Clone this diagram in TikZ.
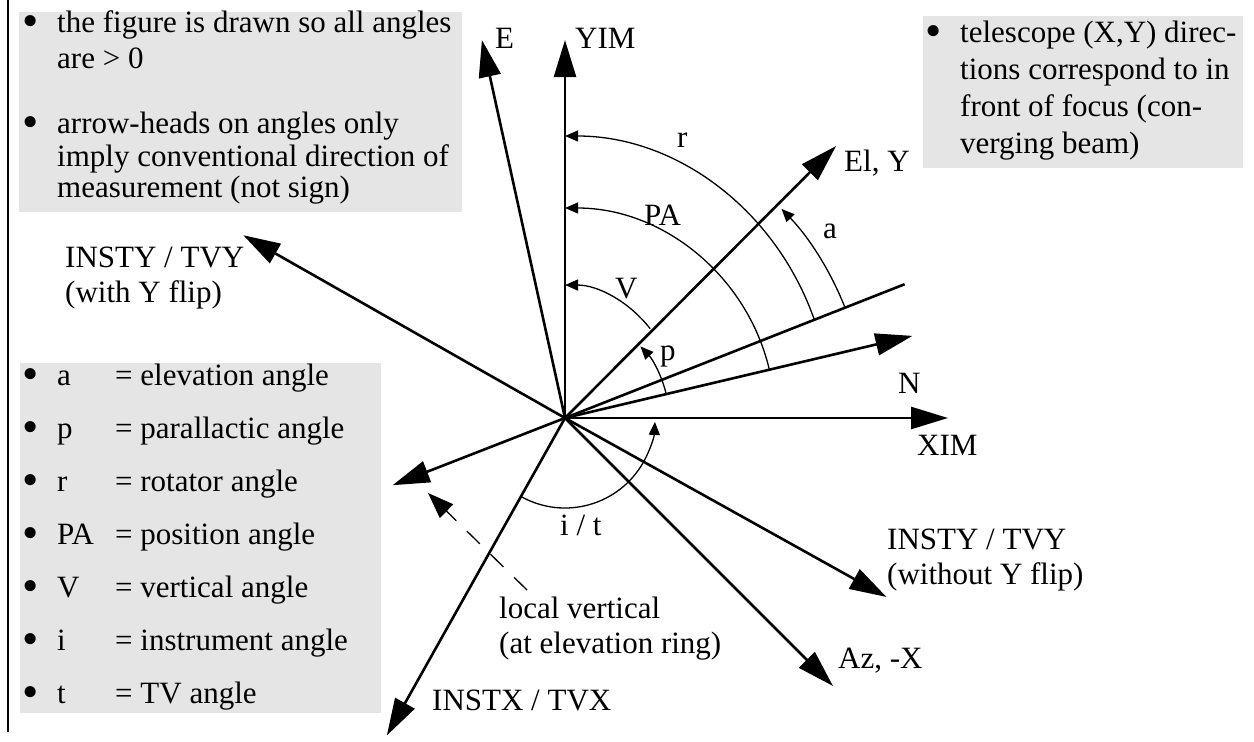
\documentclass[tikz,border=0pt]{standalone}
\usepackage{fontspec}
\setmainfont{Liberation Serif}
\usetikzlibrary{arrows.meta,calc}
\definecolor{boxgray}{RGB}{229,229,229}
\newcommand{\bigbul}{\raisebox{-4pt}{\scalebox{1.5}{•}}}
\begin{document}
\begin{tikzpicture}[x=1pt,y=-1pt,
  axis/.style={line width=2.6pt,-{Triangle[length=37pt,width=22pt]}},
  plainaxis/.style={line width=2.6pt},
  angarc/.style={line width=1.3pt,-{Triangle[length=13pt,width=11pt]}},
  vertdash/.style={line width=1.3pt,dash pattern=on 18pt off 15pt,-{Triangle[length=26pt,width=19pt]}},
  greybox/.style={fill=boxgray,draw=none},
  txt/.style={anchor=base west,inner sep=0pt,font=\fontsize{31}{35}\selectfont},
]
\useasboundingbox (0,0) rectangle (1254,742);
% background boxes
\fill[greybox] (19,12) rectangle (462,212);
\fill[greybox] (923,16) rectangle (1243,168);
\fill[greybox] (20,363) rectangle (381,713);
% left border
\draw[line width=2pt] (8,0) coordinate (bt) -- (8,732) coordinate (bb);

% top-left notes
\node[txt] (n1a) at (22,32) {\makebox[35pt][l]{\bigbul}the figure is drawn so all angles};
\node[txt] (n1b) at (57,68) {are > 0};
\node[txt] (n2a) at (22,133) {\makebox[35pt][l]{\bigbul}arrow-heads on angles only};
\node[txt] (n2b) at (57,166) {imply conventional direction of};
\node[txt] (n2c) at (57,197) {measurement (not sign)};

% top-right note
\node[txt] (m1) at (925,42) {\makebox[35pt][l]{\bigbul}telescope (X,Y) direc-};
\node[txt] (m2) at (960,79) {tions correspond to in};
\node[txt] (m3) at (960,116) {front of focus (con-};
\node[txt] (m4) at (960,153) {verging beam)};

% legend
\node[txt] (g1) at (22,385) {\makebox[35pt][l]{\bigbul}\makebox[58pt][l]{a}= elevation angle};
\node[txt] (g2) at (22,438) {\makebox[35pt][l]{\bigbul}\makebox[58pt][l]{p}= parallactic angle};
\node[txt] (g3) at (22,491) {\makebox[35pt][l]{\bigbul}\makebox[58pt][l]{r}= rotator angle};
\node[txt] (g4) at (22,544) {\makebox[35pt][l]{\bigbul}\makebox[58pt][l]{PA}= position angle};
\node[txt] (g5) at (22,597) {\makebox[35pt][l]{\bigbul}\makebox[58pt][l]{V}= vertical angle};
\node[txt] (g6) at (22,650) {\makebox[35pt][l]{\bigbul}\makebox[58pt][l]{i}= instrument angle};
\node[txt] (g7) at (22,703) {\makebox[35pt][l]{\bigbul}\makebox[58pt][l]{t}= TV angle};

% fan of axes
\begin{scope}[shift={(565,418)},y=1pt]
  \coordinate (O) at (0,0);
  \coordinate (tE) at (102.4:387);
  \coordinate (tYIM) at (90:378);
  \coordinate (tEl) at (45.1:384);
  \coordinate (tElev) at (21.5:365);
  \coordinate (tN) at (13.3:357);
  \coordinate (tXIM) at (0:383);
  \coordinate (tIYa) at (-29.1:368);
  \coordinate (tAz) at (-45:379);
  \coordinate (tIX) at (240.7:364);
  \coordinate (tS) at (201.3:185);
  \coordinate (tIYb) at (150.4:370);
  \coordinate (dv0) at (-38,-172);
  \coordinate (dv1) at (-137,-75);

  \draw[axis] (O) -- (tE);
  \draw[axis] (O) -- (tYIM);
  \draw[axis] (O) -- (tEl);
  \draw[plainaxis] (O) -- (tElev);
  \draw[axis] (O) -- (tN);
  \draw[axis] (O) -- (tXIM);
  \draw[axis] (O) -- (tIYa);
  \draw[axis] (O) -- (tAz);
  \draw[axis] (O) -- (tIX);
  \draw[axis] (O) -- (tS);
  \draw[axis] (O) -- (tIYb);
  \draw[vertdash] (dv0) -- (dv1);

  % angle arcs
  \draw[angarc] (85.2,89.3) arc[start angle=42.2,end angle=90,x radius=115,y radius=133];
  \draw[angarc] (14:104) arc[start angle=14,end angle=43.5,radius=104];
  \draw[angarc] (13.3:210) arc[start angle=13.3,end angle=90,radius=210];
  \draw[angarc] (249.3,98.3) arc[start angle=20.4,end angle=90,x radius=266,y radius=282];
  \draw[angarc] (21.5:301) arc[start angle=21.5,end angle=44,radius=301];
  \draw[angarc] (240.7:90) arc[start angle=240.7,end angle=357.5,radius=90];
\end{scope}

% labels
\node[txt] (lE) at (495,48) {E};
\node[txt] (lYIM) at (575,48) {YIM};
\node[txt] (lr) at (677,147) {r};
\node[txt] (lPA) at (644,225) {PA};
\node[txt] (lV) at (615,298) {V};
\node[txt] (la) at (823,238) {a};
\node[txt] (lEl) at (844,171) {El, Y};
\node[txt] (lp) at (660,360) {p};
\node[txt] (lN) at (898,393) {N};
\node[txt] (lXIM) at (917,455) {XIM};
\node[txt] (lIYa) at (887,549) {\parbox[t]{300pt}{INSTY / TVY\\(without Y flip)}};
\node[txt] (lAz) at (838,668) {Az, -X};
\node[txt] (lLV) at (499,618) {\parbox[t]{300pt}{local vertical\\(at elevation ring)}};
\node[txt] (lIX) at (432,710) {INSTX / TVX};
\node[txt] (lit) at (560,535) {i / t};
\node[txt] (lIYb) at (65,267) {\parbox[t]{300pt}{INSTY / TVY\\(with Y flip)}};
\end{tikzpicture}
\end{document}
